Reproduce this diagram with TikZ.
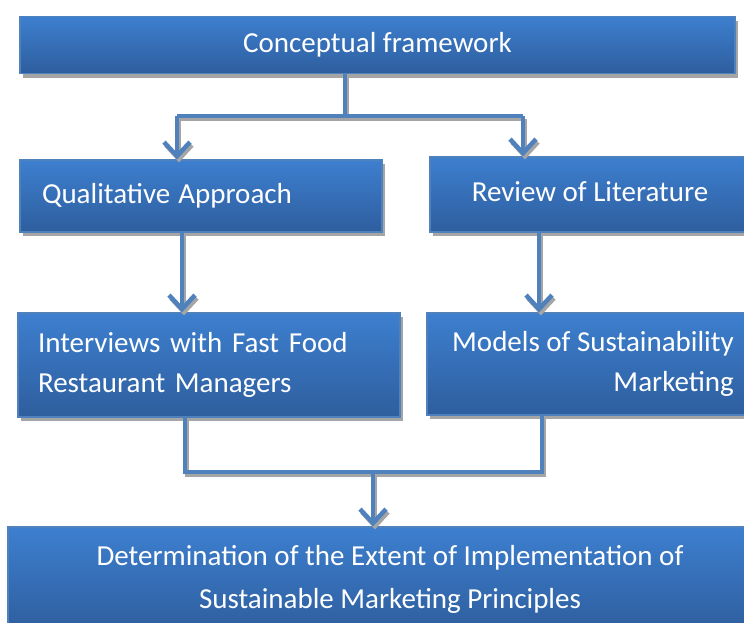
\documentclass[tikz,border=0pt]{standalone}
\usepackage{fontspec}
\setmainfont{Carlito}
\usetikzlibrary{arrows.meta}
\usetikzlibrary{shadows}
\usepackage{xcolor}

\definecolor{boxtop}{RGB}{61,127,207}
\definecolor{boxbot}{RGB}{46,94,158}
\definecolor{boxline}{RGB}{79,129,189}
\definecolor{shade}{RGB}{165,165,165}

\begin{document}
\begin{tikzpicture}[x=1pt,y=-1pt,
  main node/.style={rectangle,draw=boxline,line width=1.2pt,
    top color=boxtop,bottom color=boxbot,text=white,inner sep=0pt,
    font=\fontsize{29}{40}\selectfont,
    drop shadow={shadow xshift=3pt,shadow yshift=-4pt,fill=shade,opacity=1}},
  link/.style={draw=boxline,line width=4.5pt,
    preaction={draw=shade,line width=4.5pt,transform canvas={shift={(2pt,-3pt)}}}},
  arrow/.style={link,-{Straight Barb[length=14pt,width=26pt]}}]

  \clip (0,0) rectangle (744,622);

  \node[main node,minimum width=715,minimum height=57] (concept) at (377.5,45) {Conceptual framework};
  \node[main node,minimum width=362,minimum height=72,text width=318,align=left] (qual) at (201,196) {Qualitative\hspace{8pt}Approach};
  \node[main node,minimum width=320,minimum height=75,align=center] (review) at (590,194.5) {\raisebox{5pt}{Review of Literature}};
  \node[main node,minimum width=382,minimum height=104,text width=342,align=left] (interv) at (209,365) {Interviews with Fast Food\\Restaurant Managers};
  \node[main node,minimum width=332,minimum height=102,align=right] (models) at (593,364) {Models of Sustainability\\Marketing};
  \node[main node,minimum width=764,minimum height=105,align=center,
    font=\fontsize{29}{43}\selectfont] (final) at (390,579.5) {Determination of the Extent of Implementation of\\Sustainable Marketing Principles};

  \coordinate (split) at (345,116);
  \coordinate (qa in) at (177,116);
  \coordinate (rl in) at (523,116);
  \coordinate (join) at (373,472);

  \draw[link] (concept.south -| split) -- (split);
  \draw[link] (qa in) -- (rl in);
  \draw[arrow] (qa in) -- (qa in |- qual.north);
  \draw[arrow] (rl in) -- (rl in |- review.north);
  \draw[arrow] ([xshift=-19pt]qual.south) -- ([xshift=-19pt]qual.south |- interv.north);
  \draw[arrow] ([xshift=-51pt]review.south) -- ([xshift=-51pt]review.south |- models.north);
  \draw[link] ([xshift=-24pt]interv.south) |- ([xshift=-51pt]models.south |- join) -- ([xshift=-51pt]models.south);
  \draw[arrow] (join) -- (join |- final.north);
\end{tikzpicture}
\end{document}
